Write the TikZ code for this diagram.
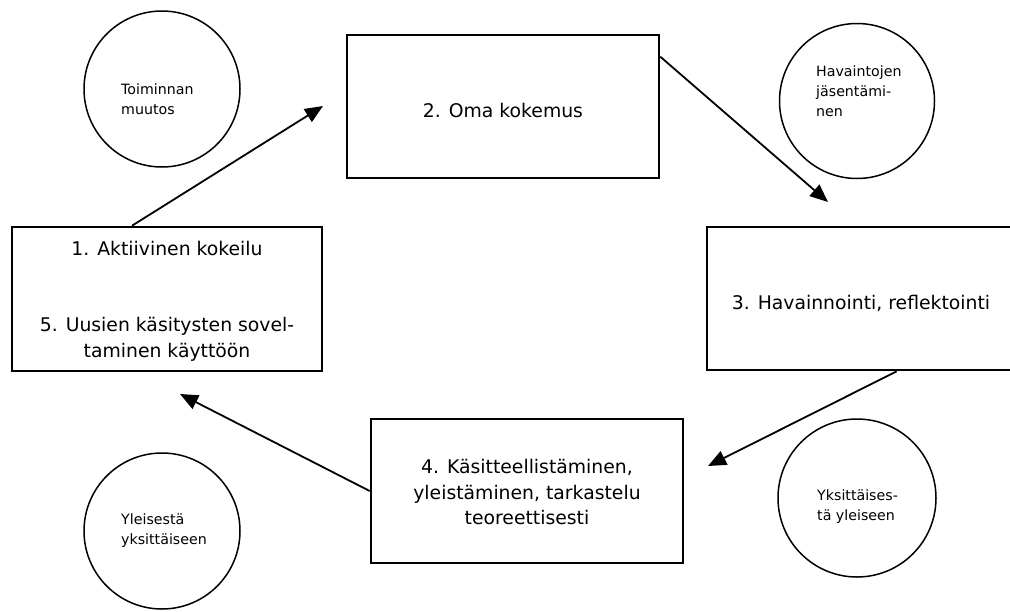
\documentclass[tikz,border=0pt]{standalone}
\usepackage{fontspec}
\setmainfont{DejaVu Sans}
\usetikzlibrary{arrows.meta}
\begin{document}
\begin{tikzpicture}[x=1pt,y=-1pt,
  stagebox/.style={draw, line width=2.6pt, rectangle, inner sep=0pt},
  stagetext/.style={inner sep=0pt, align=center,
    font=\fontsize{18.8}{25.5}\selectfont},
  phase/.style={draw, line width=1.5pt, circle, inner sep=0pt},
  phasetext/.style={anchor=west, inner sep=0pt, align=left,
    font=\fontsize{14.2}{20}\selectfont},
  flow/.style={line width=1.8pt, -{Triangle[length=18pt,width=15pt]}}]
  \useasboundingbox (0,0) rectangle (1010,611);
  \clip (0,0) rectangle (1010,611);

  % phase circles
  \node[phase, minimum size=156pt] (c1) at (162,89) {};
  \node[phase, minimum size=155pt] (c2) at (857,101) {};
  \node[phase, minimum size=158pt] (c3) at (857,498) {};
  \node[phase, minimum size=156pt] (c4) at (162,531) {};
  \node[phasetext] (t1) at (121,99) {Toiminnan\\muutos};
  \node[phasetext] (t2) at (816,91) {Havaintojen\\jäsentämi-\\nen};
  \node[phasetext] (t3) at (817,507) {Yksittäises-\\tä yleiseen};
  \node[phasetext] (t4) at (121,531) {Yleisestä\\yksittäiseen};

  % stage boxes
  \node[stagebox, minimum width=310pt, minimum height=144pt] (b1) at (167,299) {};
  \node[stagebox, minimum width=312pt, minimum height=143pt] (b2) at (503,106.5) {};
  \node[stagebox, minimum width=308pt, minimum height=143pt] (b3) at (861,298.5) {};
  \node[stagebox, minimum width=312pt, minimum height=144pt] (b4) at (527,491) {};

  % stage texts
  \node[stagetext] (s1) at ([yshift=-2pt]b1.center)
    {1. Aktiivinen kokeilu\\ \\ \\5. Uusien käsitysten sovel-\\taminen käyttöön};
  \node[stagetext] (s2) at ([yshift=-4pt]b2.center) {2. Oma kokemus};
  \node[stagetext] (s3) at ([yshift=-5pt]b3.center) {3. Havainnointi, reflektointi};
  \node[stagetext] (s4) at ([yshift=-1pt]b4.center)
    {4. Käsitteellistäminen,\\yleistäminen, tarkastelu\\teoreettisesti};

  % arrow tips
  \coordinate (h1) at (323,106);
  \coordinate (h2) at (828,202);
  \coordinate (h3) at (708,466);
  \coordinate (h4) at (180,394);

  % cycle connectors
  \draw[flow] ([xshift=-35pt]b1.north) -- (h1);
  \draw[flow] ([yshift=-23pt]b2.north east) -- (h2);
  \draw[flow] ([xshift=191pt]b3.south west) -- (h3);
  \draw[flow] (b4.west) -- (h4);
\end{tikzpicture}
\end{document}
